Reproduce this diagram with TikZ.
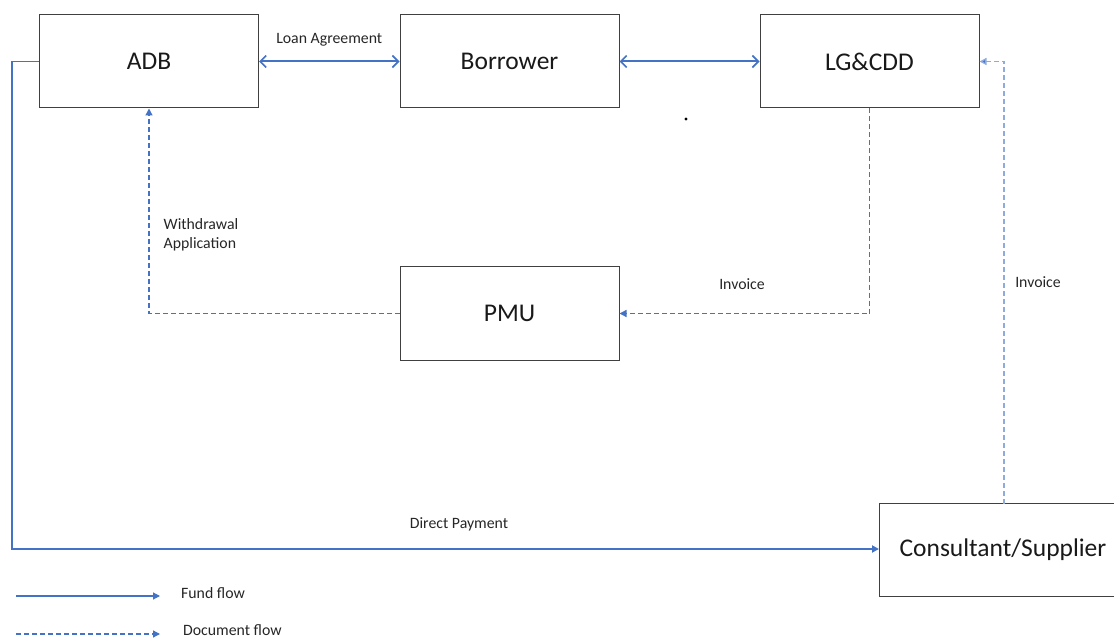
\documentclass[tikz,border=0pt]{standalone}
\usepackage{fontspec}
\setmainfont{Carlito}
\usetikzlibrary{arrows.meta}
\definecolor{flowblue}{HTML}{4472C4}
\definecolor{docblue}{HTML}{4472C4}
\definecolor{lightdoc}{HTML}{8FAADC}
\begin{document}
\begin{tikzpicture}[x=1pt,y=-1pt,
  box/.style={draw=black!75, line width=1pt, minimum width=219pt, minimum height=93pt, inner sep=0pt, font=\fontsize{25.5}{28}\selectfont, text=black!90},
  lbl/.style={font=\fontsize{15.8}{18.5}\selectfont, text=black!85, inner sep=0pt},
  twoway/.style={draw=flowblue, line width=2pt, {Straight Barb[length=6pt,width=12pt,line width=1.6pt]}-{Straight Barb[length=6pt,width=12pt,line width=1.6pt]}},
  fund/.style={draw=flowblue, line width=1.8pt, -{Triangle[length=7pt,width=7pt]}},
  doc/.style={draw=docblue, line width=1.3pt, dash pattern=on 5pt off 3pt, -{Triangle[length=7pt,width=7pt]}},
  legfund/.style={draw=flowblue, line width=1.1pt, -{Triangle[length=7pt,width=7pt]}}
]
\useasboundingbox (0,0) rectangle (1114,639);
\begin{scope}
\clip (0,0) rectangle (1114,639);
\node[box] (adb) at (149,61.5) {ADB};
\node[box] (bor) at (509.5,61.5) {Borrower};
\node[box] (lg) at (869.5,61.5) {LG\&CDD};
\node[box] (pmu) at (509.5,313.5) {PMU};
\node[box, minimum width=240pt, anchor=west] (cons) at (879,550) {};
\node[font=\fontsize{25.5}{28}\selectfont, text=black!90, inner sep=0pt] (constext) at (1003,550) {Consultant/Supplier};
\end{scope}

\draw[twoway] (adb.east) -- (bor.west) node[lbl, midway, above=14pt] (la) {Loan Agreement};
\draw[twoway] (bor.east) -- (lg.west);

\coordinate (c1) at (12,61.5);
\coordinate (c2) at (12,549);
\draw[fund] (adb.west) -- (c1) -- (c2) -- (c2 -| cons.west);
\node[lbl] (dp) at (459,524) {Direct Payment};

\coordinate (d1) at (149,313.5);
\draw[doc] (pmu.west) -- (d1) -- (adb.south);
\node[lbl, align=left, anchor=west] (wa) at (163.5,235) {Withdrawal\\Application};

\coordinate (e1) at (869.5,313.5);
\draw[doc] (lg.south) -- (e1) -- (pmu.east);
\node[lbl] (inv1) at (742,284) {Invoice};

\coordinate (f1) at (1004,61.5);
\draw[doc, draw=lightdoc, -{Triangle[length=7pt,width=7pt,fill=docblue]}] (1004,504) coordinate (f0) -- (f1) -- (lg.east);
\node[lbl] (inv2) at (1038,282) {Invoice};

\fill[black] (686,119) circle (1.6pt);

\coordinate (l1) at (16,596);
\coordinate (l2) at (160,596);
\draw[legfund] (l1) -- (l2);
\node[lbl, anchor=west] (ff) at (181,593) {Fund flow};
\coordinate (l3) at (16,634);
\coordinate (l4) at (160,634);
\draw[doc] (l3) -- (l4);
\node[lbl, anchor=west] (df) at (183,630) {Document flow};
\end{tikzpicture}
\end{document}
